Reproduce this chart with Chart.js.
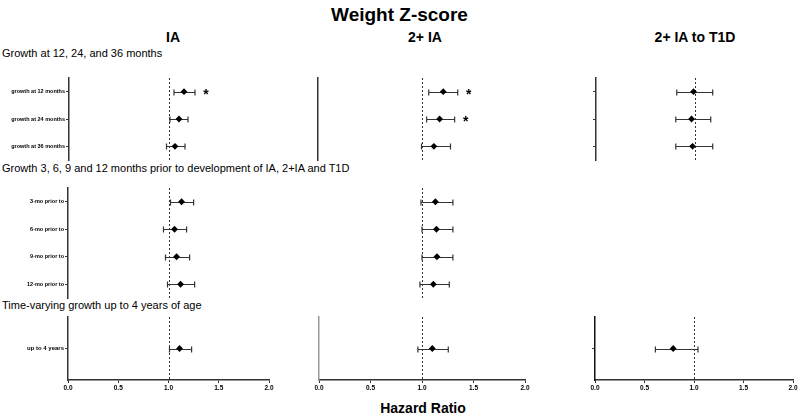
<!DOCTYPE html>
<html>
<head>
<meta charset="utf-8">
<script src="https://cdn.jsdelivr.net/npm/chart.js@4.4.0/dist/chart.umd.min.js"></script>
<style>
  body { margin: 0; background: #fff; font-family: "Liberation Sans", Arial, sans-serif; }
  #wrap { position: relative; width: 799px; height: 414px; overflow: hidden; }
  .t { position: absolute; white-space: nowrap; color: #000; line-height: 1; }
  .box { position: absolute; }
</style>
</head>
<body>
<div id="wrap">
  <div class="t" style="left:0;width:799px;text-align:center;top:5px;font-weight:bold;font-size:19px">Weight Z-score</div>
  <div class="t" style="left:123px;width:100px;text-align:center;top:30px;font-weight:bold;font-size:14px">IA</div>
  <div class="t" style="left:375px;width:100px;text-align:center;top:30px;font-weight:bold;font-size:14px">2+ IA</div>
  <div class="t" style="left:620px;width:150px;text-align:center;top:30px;font-weight:bold;font-size:14px">2+ IA to T1D</div>
  <div class="t" style="left:2px;top:48px;font-size:11px">Growth at 12, 24, and 36 months</div>
  <div class="t" style="left:2px;top:163px;font-size:11px">Growth 3, 6, 9 and 12 months prior to development of IA, 2+IA and T1D</div>
  <div class="t" style="left:2px;top:300px;font-size:11px">Time-varying growth up to 4 years of age</div>
  <div class="t" style="left:323px;width:200px;text-align:center;top:401px;font-weight:bold;font-size:14px">Hazard Ratio</div>

  <div class="box" style="left:0;top:71px;width:280px;height:96px"><canvas id="c11"></canvas></div>
  <div class="box" style="left:280px;top:71px;width:260px;height:96px"><canvas id="c21"></canvas></div>
  <div class="box" style="left:540px;top:71px;width:259px;height:96px"><canvas id="c31"></canvas></div>
  <div class="box" style="left:0;top:181px;width:280px;height:125px"><canvas id="c12"></canvas></div>
  <div class="box" style="left:280px;top:181px;width:260px;height:125px"><canvas id="c22"></canvas></div>
  <div class="box" style="left:0;top:310px;width:280px;height:85px"><canvas id="c13"></canvas></div>
  <div class="box" style="left:280px;top:310px;width:260px;height:85px"><canvas id="c23"></canvas></div>
  <div class="box" style="left:540px;top:310px;width:259px;height:85px"><canvas id="c33"></canvas></div>
</div>

<script>
// categories
var rowsAt = ['growth at 12 months', 'growth at 24 months', 'growth at 36 months'];
var rowsPrior = ['3-mo prior to', '6-mo prior to', '9-mo prior to', '12-mo prior to'];
var rowsTime = ['up to 4 years'];
var xTicks = [0.0, 0.5, 1.0, 1.5, 2.0];

// IA
var iaAtHR = [1.15, 1.10, 1.06];
var iaAtLo = [1.05, 1.01, 0.975];
var iaAtHi = [1.26, 1.19, 1.16];
var iaAtSig = [true, false, false];
var iaPriorHR = [1.13, 1.06, 1.08, 1.12];
var iaPriorLo = [1.02, 0.95, 0.97, 0.99];
var iaPriorHi = [1.25, 1.18, 1.21, 1.26];
var iaTimeHR = [1.11];
var iaTimeLo = [1.01];
var iaTimeHi = [1.23];

// 2+ IA
var mAtHR = [1.21, 1.175, 1.12];
var mAtLo = [1.07, 1.05, 1.00];
var mAtHi = [1.35, 1.32, 1.28];
var mAtSig = [true, true, false];
var mPriorHR = [1.13, 1.14, 1.145, 1.11];
var mPriorLo = [0.99, 1.00, 1.00, 0.98];
var mPriorHi = [1.30, 1.30, 1.30, 1.265];
var mTimeHR = [1.10];
var mTimeLo = [0.96];
var mTimeHi = [1.255];

// 2+ IA to T1D
var tAtHR = [0.99, 0.97, 0.98];
var tAtLo = [0.82, 0.81, 0.81];
var tAtHi = [1.185, 1.165, 1.185];
var tTimeHR = [0.79];
var tTimeLo = [0.61];
var tTimeHi = [1.04];

// reference line at 1, CI whiskers and stars
var forestPlugin = {
  id: 'forest',
  beforeDatasetsDraw: function (chart) {
    var x = chart.scales.x, y = chart.scales.y, ctx = chart.ctx, a = chart.chartArea;
    var ds = chart.data.datasets[0];
    ctx.save();
    ctx.strokeStyle = '#333';
    ctx.lineWidth = 1;
    ctx.setLineDash([2, 2]);
    var px = Math.round(x.getPixelForValue(1)) + 0.5;
    ctx.beginPath(); ctx.moveTo(px, a.top); ctx.lineTo(px, a.bottom); ctx.stroke();
    ctx.setLineDash([]);
    ctx.lineWidth = 1.2;
    ds.lo.forEach(function (l, i) {
      var yy = Math.round(y.getPixelForValue(i)) + 0.5;
      var x1 = x.getPixelForValue(l), x2 = x.getPixelForValue(ds.hi[i]);
      ctx.beginPath();
      ctx.moveTo(x1, yy); ctx.lineTo(x2, yy);
      ctx.moveTo(x1, yy - 3); ctx.lineTo(x1, yy + 3);
      ctx.moveTo(x2, yy - 3); ctx.lineTo(x2, yy + 3);
      ctx.stroke();
    });
    ctx.restore();
  },
  afterDatasetsDraw: function (chart) {
    var x = chart.scales.x, y = chart.scales.y, ctx = chart.ctx;
    var ds = chart.data.datasets[0];
    if (!ds.sig) return;
    ctx.save();
    ctx.fillStyle = '#000';
    ctx.font = 'bold 14px "Liberation Sans", Arial';
    ctx.textAlign = 'center';
    ctx.textBaseline = 'middle';
    ds.sig.forEach(function (s, i) {
      if (!s) return;
      ctx.fillText('*', x.getPixelForValue(ds.hi[i]) + 11, y.getPixelForValue(i) + 3);
    });
    ctx.restore();
  }
};

function forest(id, c) {
  var yW = c.yWidth;
  new Chart(document.getElementById(id), {
    type: 'scatter',
    data: {
      datasets: [{
        data: c.hr.map(function (v, i) { return { x: v, y: c.labels[i] }; }),
        lo: c.lo, hi: c.hi, sig: c.sig,
        pointStyle: 'rectRot',
        pointRadius: 3.4,
        backgroundColor: '#000',
        borderColor: '#000',
        borderWidth: 0
      }]
    },
    options: {
      responsive: true,
      maintainAspectRatio: false,
      animation: false,
      events: [],
      layout: { padding: { top: 7, bottom: c.showX ? 0 : c.padBottom, right: c.padRight, left: 0 } },
      plugins: { legend: { display: false }, tooltip: { enabled: false } },
      scales: {
        x: {
          type: 'linear', min: 0, max: 2,
          display: c.showX,
          afterBuildTicks: function (s) { s.ticks = xTicks.map(function (v) { return { value: v }; }); },
          afterFit: function (s) { if (c.showX) s.height = 15; },
          grid: { drawOnChartArea: false, drawTicks: true, tickLength: 3, color: '#333', lineWidth: 1 },
          border: { display: true, color: '#333', width: 1.5 },
          ticks: {
            padding: 1, color: '#000', maxRotation: 0,
            font: { family: '"Liberation Sans", Arial', size: 6.5, weight: 'bold' },
            callback: function (v) { return Number(v).toFixed(1); }
          }
        },
        y: {
          type: 'category',
          labels: c.labels,
          offset: true,
          afterFit: function (s) { s.width = yW; },
          grid: { drawOnChartArea: false, drawTicks: c.yTicks, tickLength: 3, offset: false, color: '#333', lineWidth: 1 },
          border: { display: c.yLine, color: c.yColor || '#333', width: 1.5 },
          ticks: {
            display: c.yLabels, padding: 1, color: '#000',
            font: { family: '"Liberation Sans", Arial', size: c.labelSize || 5.5, weight: 'bold' }
          }
        }
      }
    },
    plugins: [forestPlugin]
  });
}

// Growth at 12, 24, 36 months
forest('c11', { labels: rowsAt, hr: iaAtHR, lo: iaAtLo, hi: iaAtHi, sig: iaAtSig, yWidth: 69, padRight: 11, padBottom: 7, showX: false, yLine: true, yTicks: true, yLabels: true });
forest('c21', { labels: rowsAt, hr: mAtHR, lo: mAtLo, hi: mAtHi, sig: mAtSig, yWidth: 38, padRight: 15, padBottom: 7, showX: false, yLine: true, yTicks: false, yLabels: false });
forest('c31', { labels: rowsAt, hr: tAtHR, lo: tAtLo, hi: tAtHi, yWidth: 56, padRight: 6, padBottom: 7, showX: false, yLine: true, yTicks: true, yLabels: false });

// Growth prior to development
forest('c12', { labels: rowsPrior, hr: iaPriorHR, lo: iaPriorLo, hi: iaPriorHi, yWidth: 68, padRight: 11, padBottom: 8, showX: false, yLine: true, yTicks: true, yLabels: true });
forest('c22', { labels: rowsPrior, hr: mPriorHR, lo: mPriorLo, hi: mPriorHi, yWidth: 39, padRight: 15, padBottom: 8, showX: false, yLine: false, yTicks: false, yLabels: false });

// Time-varying growth up to 4 years
forest('c13', { labels: rowsTime, hr: iaTimeHR, lo: iaTimeLo, hi: iaTimeHi, yWidth: 68, padRight: 11, showX: true, yLine: true, yTicks: true, yLabels: true, labelSize: 6 });
forest('c23', { labels: rowsTime, hr: mTimeHR, lo: mTimeLo, hi: mTimeHi, yWidth: 39, padRight: 15, showX: true, yLine: true, yTicks: false, yLabels: false, yColor: '#999' });
forest('c33', { labels: rowsTime, hr: tTimeHR, lo: tTimeLo, hi: tTimeHi, yWidth: 55, padRight: 6, showX: true, yLine: true, yTicks: true, yLabels: false, yColor: '#111' });
</script>
</body>
</html>
